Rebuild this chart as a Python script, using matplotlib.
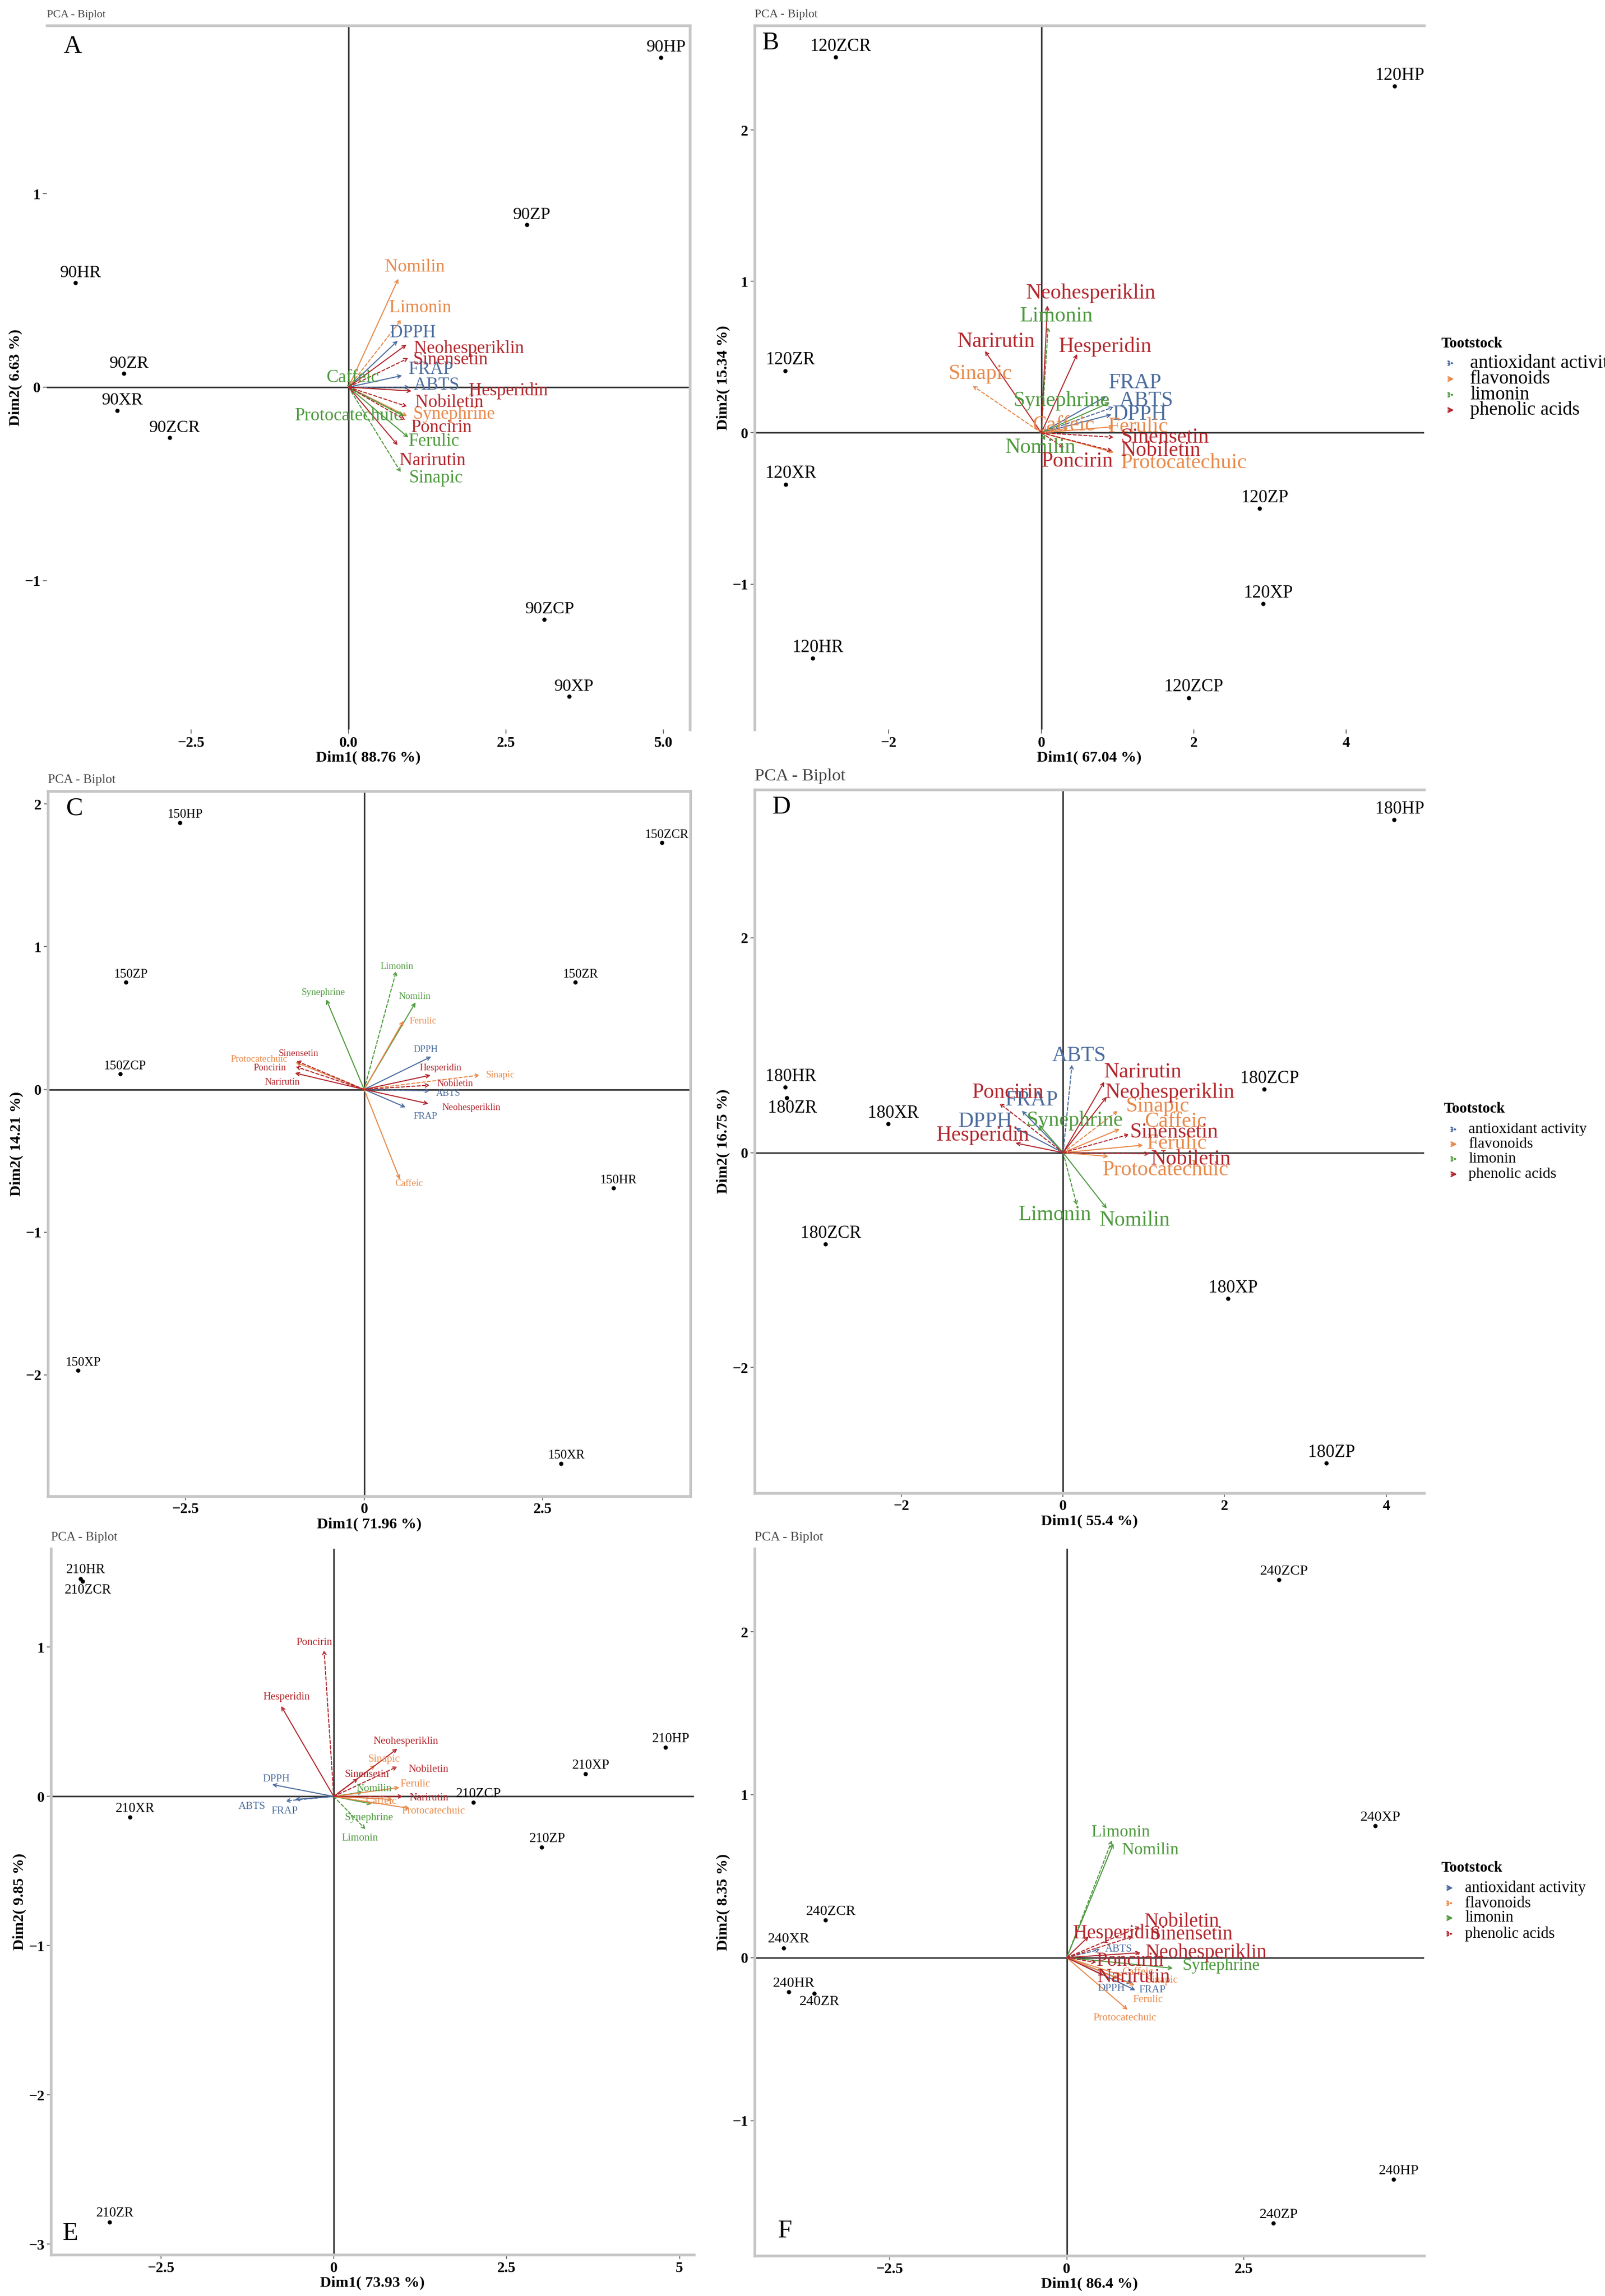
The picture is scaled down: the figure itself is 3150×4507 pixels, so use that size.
import matplotlib
matplotlib.use('Agg')
import matplotlib.pyplot as plt

plt.rcParams['font.family'] = ['Liberation Serif', 'DejaVu Serif']

W, H = 3150, 4507
DPI = 300

COLORS = {'blue': '#4c6d9e', 'orange': '#e8894b', 'green': '#4e9a3e', 'red': '#b3272d'}

# variables (same order in every panel)
VARIABLES = ['DPPH', 'FRAP', 'ABTS', 'Limonin', 'Nomilin', 'Synephrine',
             'Caffeic', 'Protocatechuic', 'Ferulic', 'Sinapic',
             'Neohesperiklin', 'Sinensetin', 'Hesperidin', 'Nobiletin', 'Poncirin', 'Narirutin']
GROUPS = ['anti'] * 3 + ['lim'] * 3 + ['phen'] * 4 + ['flav'] * 6
DASHED = {'ABTS', 'Sinensetin', 'Nobiletin', 'Limonin', 'Poncirin', 'Sinapic'}

# ---- A : 90 ----
A_samples = ['90HP', '90ZP', '90HR', '90ZR', '90XR', '90ZCR', '90ZCP', '90XP']
A_dim1 = [4.96, 2.83, -4.34, -3.57, -3.67, -2.84, 3.11, 3.50]
A_dim2 = [1.705, 0.84, 0.54, 0.07, -0.12, -0.26, -1.20, -1.60]
A_var1 = [0.78, 0.85, 0.97, 0.84, 0.79, 0.93, 0.05, 0.88, 0.95, 0.83, 0.92, 0.95, 1.00, 0.93, 0.90, 0.78]
A_var2 = [0.24, 0.06, 0.00, 0.35, 0.56, -0.15, 0.02, -0.15, -0.26, -0.44, 0.22, 0.15, -0.02, -0.10, -0.17, -0.30]

# ---- B : 120 ----
B_samples = ['120ZCR', '120HP', '120ZR', '120XR', '120HR', '120ZP', '120XP', '120ZCP']
B_dim1 = [-2.70, 4.63, -3.36, -3.35, -3.00, 2.86, 2.91, 1.93]
B_dim2 = [2.48, 2.29, 0.41, -0.34, -1.49, -0.50, -1.13, -1.75]
B_var1 = [0.92, 0.85, 0.95, 0.09, 0.05, 0.90, 0.35, 0.95, 0.95, -0.90, 0.08, 0.95, 0.47, 0.93, 0.30, -0.74]
B_var2 = [0.12, 0.24, 0.17, 0.70, -0.05, 0.20, 0.03, -0.13, 0.04, 0.31, 0.84, -0.03, 0.52, -0.12, -0.10, 0.54]

# ---- C : 150 ----
C_samples = ['150HP', '150ZCR', '150ZP', '150ZR', '150ZCP', '150HR', '150XP', '150XR']
C_dim1 = [-2.58, 4.17, -3.34, 2.96, -3.42, 3.49, -4.01, 2.76]
C_dim2 = [1.87, 1.73, 0.75, 0.75, 0.11, -0.69, -1.97, -2.62]
C_var1 = [0.94, 0.58, 0.92, 0.45, 0.72, -0.53, 0.50, -0.96, 0.55, 1.62, 0.90, -0.95, 0.93, 0.92, -0.96, -0.97]
C_var2 = [0.23, -0.125, -0.01, 0.83, 0.61, 0.63, -0.63, 0.19, 0.48, 0.10, -0.10, 0.20, 0.10, 0.03, 0.16, 0.115]

# ---- D : 180 ----
D_samples = ['180HP', '180HR', '180ZR', '180XR', '180ZCP', '180ZCR', '180XP', '180ZP']
D_dim1 = [4.10, -3.44, -3.42, -2.17, 2.49, -2.94, 2.04, 3.26]
D_dim2 = [3.10, 0.61, 0.51, 0.27, 0.59, -0.85, -1.36, -2.89]
D_var1 = [-0.59, -0.51, 0.11, 0.17, 0.54, -0.30, 0.70, 0.56, 0.99, 0.68, 0.54, 0.82, -0.59, 1.07, -0.79, 0.51]
D_var2 = [0.23, 0.39, 0.82, -0.49, -0.52, 0.26, 0.22, -0.035, 0.07, 0.39, 0.52, 0.17, 0.09, -0.01, 0.46, 0.66]

# ---- E : 210 ----
E_samples = ['210HR', '210ZCR', '210HP', '210XP', '210ZCP', '210ZP', '210XR', '210ZR']
E_dim1 = [-3.66, -3.63, 4.80, 3.64, 2.02, 3.01, -2.95, -3.24]
E_dim2 = [1.46, 1.44, 0.33, 0.15, -0.04, -0.34, -0.14, -2.85]
E_var1 = [-0.89, -0.56, -0.70, 0.46, 0.42, 0.55, 0.85, 1.10, 0.95, 0.60, 0.92, 0.35, -0.76, 0.92, -0.14, 1.00]
E_var2 = [0.08, -0.02, -0.03, -0.22, 0.03, -0.05, -0.02, -0.08, 0.06, 0.21, 0.32, 0.12, 0.605, 0.20, 0.98, 0.00]

# ---- F : 240 ----
F_samples = ['240ZCP', '240XP', '240ZCR', '240XR', '240HR', '240ZR', '240HP', '240ZP']
F_dim1 = [3.00, 4.36, -3.41, -4.00, -3.93, -3.57, 4.62, 2.92]
F_dim2 = [2.32, 0.81, 0.23, 0.06, -0.21, -0.22, -1.36, -1.63]
F_var1 = [0.92, 0.97, 0.47, 0.64, 0.66, 1.50, 0.78, 0.86, 0.96, 0.73, 1.04, 0.94, 0.31, 1.04, 0.42, 0.52]
F_var2 = [-0.16, -0.20, 0.05, 0.72, 0.70, -0.065, -0.11, -0.32, -0.17, -0.13, 0.03, 0.13, 0.13, 0.19, -0.03, -0.11]

# label anchors (layout, repelled text positions)
LABELS_A = [(1.02, 0.28), (1.31, 0.09), (1.40, 0.01), (1.14, 0.41), (1.05, 0.62), (1.68, -0.14),
            (0.07, 0.05), (0.00, -0.15), (1.36, -0.28), (1.39, -0.47),
            (1.91, 0.20), (1.62, 0.14), (2.54, -0.02), (1.60, -0.08), (1.48, -0.21), (1.33, -0.38)]
LABELS_B = [(1.29, 0.12), (1.23, 0.33), (1.38, 0.21), (0.20, 0.77), (-0.01, -0.10), (0.26, 0.21),
            (0.29, 0.05), (1.87, -0.20), (1.27, 0.04), (-0.80, 0.39),
            (0.65, 0.92), (1.62, -0.03), (0.84, 0.57), (1.57, -0.12), (0.47, -0.19), (-0.59, 0.60)]
LABELS_C = [(0.86, 0.28), (0.86, -0.19), (1.18, -0.03), (0.46, 0.86), (0.71, 0.65), (-0.57, 0.68),
            (0.63, -0.66), (-1.47, 0.21), (0.82, 0.48), (1.91, 0.10),
            (1.50, -0.13), (-0.92, 0.25), (1.07, 0.15), (1.27, 0.04), (-1.32, 0.15), (-1.15, 0.05)]
LABELS_D = [(-0.96, 0.29), (-0.39, 0.49), (0.20, 0.90), (-0.10, -0.58), (0.89, -0.63), (0.14, 0.30),
            (1.39, 0.29), (1.27, -0.16), (1.41, 0.087), (1.17, 0.43),
            (1.32, 0.56), (1.37, 0.19), (-0.99, 0.16), (1.58, -0.06), (-0.68, 0.56), (0.99, 0.75)]
LABELS_E = [(-0.83, 0.115), (-0.71, -0.10), (-1.18, -0.07), (0.38, -0.28), (0.58, 0.05), (0.51, -0.145),
            (0.68, -0.036), (1.44, -0.10), (1.18, 0.08), (0.73, 0.25),
            (1.04, 0.37), (0.48, 0.145), (-0.68, 0.665), (1.37, 0.18), (-0.28, 1.03), (1.38, -0.01)]
LABELS_F = [(0.63, -0.19), (1.21, -0.20), (0.73, 0.05), (0.76, 0.77), (1.18, 0.66), (2.18, -0.05),
            (1.00, -0.09), (0.82, -0.37), (1.15, -0.26), (1.35, -0.14),
            (1.97, 0.03), (1.76, 0.14), (0.71, 0.15), (1.63, 0.22), (0.90, -0.02), (0.95, -0.12)]

PAL_A = {'anti': 'blue', 'lim': 'orange', 'phen': 'green', 'flav': 'red'}
PAL = {'anti': 'blue', 'lim': 'green', 'phen': 'orange', 'flav': 'red'}

PANELS = [
    dict(letter='A', box=(92, 1354, 50, 1432), xlim=(-4.79, 5.42), ylim=(-1.77, 1.87),
         xt=[-2.5, 0, 2.5, 5], xtl=['\u22122.5', '0.0', '2.5', '5.0'], yt=[-1, 0, 1],
         xlab='Dim1( 88.76 %)', ylab='Dim2( 6.63 %)', title_fs=5.3,
         s=(A_samples, A_dim1, A_dim2), v=(A_var1, A_var2), lab=LABELS_A, pal=PAL_A,
         sfs=8.2, vfs=8.5, spines=('top', 'right'), letter_xy=(0.04, 0.97)),
    dict(letter='B', box=(1481, 2795, 50, 1432), xlim=(-3.76, 5.02), ylim=(-1.96, 2.69),
         xt=[-2, 0, 2, 4], xtl=None, yt=[-1, 0, 1, 2],
         xlab='Dim1( 67.04 %)', ylab='Dim2( 15.34 %)', title_fs=5.7,
         s=(B_samples, B_dim1, B_dim2), v=(B_var1, B_var2), lab=LABELS_B, pal=PAL,
         sfs=8.4, vfs=10, spines=('top', 'left'), letter_xy=(0.024, 0.975)),
    dict(letter='C', box=(94, 1355, 1553, 2937), xlim=(-4.43, 4.57), ylim=(-2.85, 2.09),
         xt=[-2.5, 0, 2.5], xtl=['\u22122.5', '0', '2.5'], yt=[-2, -1, 0, 1, 2],
         xlab='Dim1( 71.96 %)', ylab='Dim2( 14.21 %)', title_fs=6.1,
         s=(C_samples, C_dim1, C_dim2), v=(C_var1, C_var2), lab=LABELS_C, pal=PAL,
         sfs=6, vfs=4.5, spines=('top', 'right', 'left', 'bottom'), letter_xy=(0.042, 0.975)),
    dict(letter='D', box=(1481, 2795, 1550, 2931), xlim=(-3.82, 4.47), ylim=(-3.17, 3.38),
         xt=[-2, 0, 2, 4], xtl=None, yt=[-2, 0, 2],
         xlab='Dim1( 55.4 %)', ylab='Dim2( 16.75 %)', title_fs=8.2,
         s=(D_samples, D_dim1, D_dim2), v=(D_var1, D_var2), lab=LABELS_D, pal=PAL,
         sfs=8.3, vfs=10, spines=('top', 'left', 'bottom'), letter_xy=(0.04, 0.975)),
    dict(letter='E', box=(100, 1362, 3040, 4426), xlim=(-4.09, 5.21), ylim=(-3.07, 1.66),
         xt=[-2.5, 0, 2.5, 5], xtl=['\u22122.5', '0', '2.5', '5'], yt=[-3, -2, -1, 0, 1],
         xlab='Dim1( 73.93 %)', ylab='Dim2( 9.85 %)', title_fs=6,
         s=(E_samples, E_dim1, E_dim2), v=(E_var1, E_var2), lab=LABELS_E, pal=PAL,
         sfs=6.4, vfs=5, spines=('left', 'bottom'), letter_xy=(0.03, 0.03)),
    dict(letter='F', box=(1481, 2795, 3040, 4428), xlim=(-4.41, 5.05), ylim=(-1.83, 2.51),
         xt=[-2.5, 0, 2.5], xtl=['\u22122.5', '0', '2.5'], yt=[-1, 0, 1, 2],
         xlab='Dim1( 86.4 %)', ylab='Dim2( 8.35 %)', title_fs=6.2,
         s=(F_samples, F_dim1, F_dim2), v=(F_var1, F_var2), lab=LABELS_F, pal=PAL,
         sfs=6.8, vfs={'flav': 9.4, 'lim': 8, 'anti': 5, 'phen': 5},
         spines=('left', 'bottom'), letter_xy=(0.045, 0.035)),
]

BELOW = {'180ZR', '210ZCR', '240ZR'}

LEGEND_LABELS = ['antioxidant activity', 'flavonoids', 'limonin', 'phenolic acids']
LEGEND_COLORS = ['blue', 'orange', 'green', 'red']
LEGENDS = [
    dict(x_title=2829, y_title=675, ys=[713, 744, 775, 805], xk=(2834, 2862), xt=2885, fs=9,
         ls=[':', '-', ':', '-']),
    dict(x_title=2834, y_title=2176, ys=[2217, 2246, 2275, 2305], xk=(2840, 2868), xt=2882, fs=7.2,
         ls=[':', '-', ':', '-']),
    dict(x_title=2829, y_title=3667, ys=[3706, 3736, 3765, 3796], xk=(2832, 2860), xt=2875, fs=7.4,
         ls=['-', ':', '-', ':']),
]


def fx(px):
    return px / W


def fy(py):
    return 1 - py / H


def draw_panel(fig, p):
    l, r, t, b = p['box']
    ax = fig.add_axes([fx(l), fy(b), (r - l) / W, (b - t) / H])
    ax.set_xlim(p['xlim'])
    ax.set_ylim(p['ylim'])
    ax.axhline(0, color='#3a3a3a', lw=0.75, zorder=1)
    ax.axvline(0, color='#3a3a3a', lw=0.75, zorder=1)

    for side in ['top', 'right', 'left', 'bottom']:
        ax.spines[side].set_visible(side in p['spines'])
        ax.spines[side].set_color('#c6c6c6')
        ax.spines[side].set_linewidth(1.3)

    ax.set_xticks(p['xt'])
    if p['xtl']:
        ax.set_xticklabels(p['xtl'])
    else:
        ax.set_xticklabels([str(v).replace('-', '\u2212') for v in p['xt']])
    ax.set_yticks(p['yt'])
    ax.set_yticklabels([str(v).replace('-', '\u2212') for v in p['yt']])
    ax.tick_params(length=2, width=0.5, color='#777777', labelsize=7, pad=1)
    for lbl in ax.get_xticklabels() + ax.get_yticklabels():
        lbl.set_fontweight('bold')
    ax.set_xlabel(p['xlab'], fontsize=7.3, fontweight='bold', labelpad=0.5)
    ax.set_ylabel(p['ylab'], fontsize=7.3, fontweight='bold', labelpad=1)

    ax.text(0.0, 1.008, 'PCA - Biplot', transform=ax.transAxes, fontsize=p['title_fs'],
            color='#444444', ha='left', va='bottom')
    lx, ly = p['letter_xy']
    ax.text(lx, ly, p['letter'], transform=ax.transAxes, fontsize=12, ha='center', va='center')

    vx, vy = p['v']
    for i, name in enumerate(VARIABLES):
        grp = GROUPS[i]
        c = COLORS[p['pal'][grp]]
        ls = (0, (3, 2)) if name in DASHED else '-'
        ax.annotate('', xy=(vx[i], vy[i]), xytext=(0, 0),
                    arrowprops=dict(arrowstyle='->', color=c, lw=0.5, linestyle=ls,
                                    shrinkA=0, shrinkB=0, mutation_scale=4),
                    zorder=3)
        fs = p['vfs'][grp] if isinstance(p['vfs'], dict) else p['vfs']
        tx, ty = p['lab'][i]
        ax.text(tx, ty, name, color=c, fontsize=fs, ha='center', va='center', zorder=4)

    names, sx, sy = p['s']
    ax.scatter(sx, sy, s=4, color='black', zorder=5, linewidths=0)
    for n, x, y in zip(names, sx, sy):
        below = n in BELOW
        ax.annotate(n, (x, y), xytext=(2.5, -1 if below else 1), textcoords='offset points',
                    ha='center', va='top' if below else 'bottom', fontsize=p['sfs'], zorder=6)
    return ax


def draw_legend(fig, lg):
    fig.text(fx(lg['x_title']), fy(lg['y_title']), 'Tootstock', fontsize=7, fontweight='bold',
             ha='left', va='center')
    for lab, col, y, ls in zip(LEGEND_LABELS, LEGEND_COLORS, lg['ys'], lg['ls']):
        fig.add_artist(matplotlib.patches.FancyArrowPatch(
            (fx(lg['xk'][0]), fy(y)), (fx(lg['xk'][1]), fy(y)), transform=fig.transFigure,
            arrowstyle='->', color=COLORS[col], lw=0.7, linestyle=ls, mutation_scale=5))
        fig.text(fx(lg['xt']), fy(y), lab, fontsize=lg['fs'], ha='left', va='center')


fig = plt.figure(figsize=(W / DPI, H / DPI), dpi=DPI)
for p in PANELS:
    draw_panel(fig, p)
for lg in LEGENDS:
    draw_legend(fig, lg)

fig.savefig('out.png', dpi=DPI)
